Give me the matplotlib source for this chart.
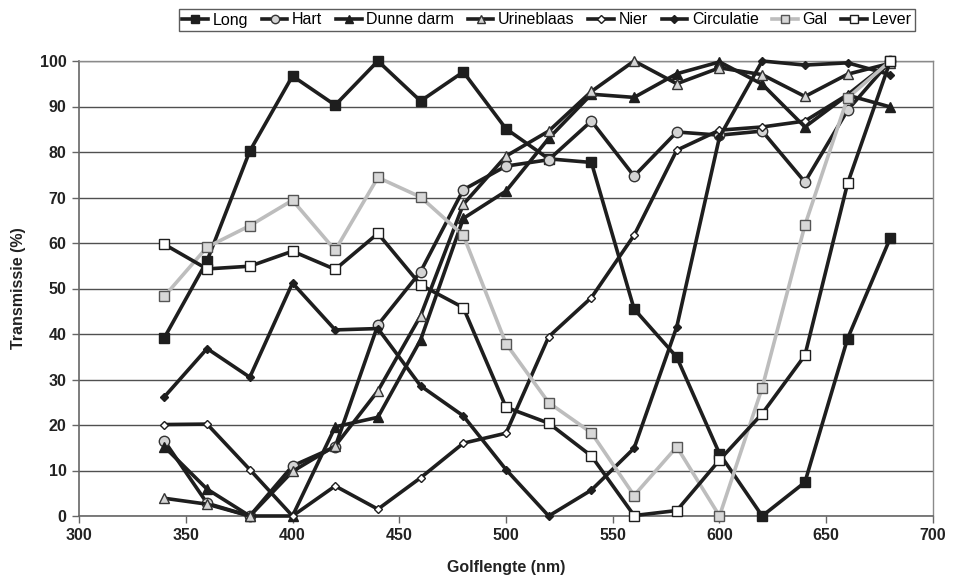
import matplotlib
matplotlib.use("Agg")
import matplotlib.pyplot as plt

plt.rcParams['font.family'] = ['Liberation Sans', 'DejaVu Sans']

wavelength = [340, 360, 380, 400, 420, 440, 460, 480, 500, 520, 540, 560, 580, 600, 620, 640, 660, 680]

long_ = [39.2, 56.1, 80.2, 96.7, 90.3, 100.0, 91.2, 97.6, 85.1, 78.5, 77.7, 45.5, 34.9, 13.7, 0.0, 7.4, 39.0, 61.1]
hart = [16.5, 2.8, 0.0, 11.0, 15.2, 42.0, 53.7, 71.7, 76.9, 78.3, 86.8, 74.7, 84.4, 83.7, 84.6, 73.4, 89.2, 100.0]
dunne_darm = [15.2, 5.9, 0.0, 0.0, 19.6, 21.7, 38.7, 65.4, 71.4, 83.0, 92.7, 92.0, 97.2, 99.8, 94.9, 85.5, 92.5, 89.9]
urineblaas = [3.9, 2.6, 0.0, 9.8, 15.4, 27.5, 44.0, 68.5, 79.1, 84.6, 93.3, 100.0, 95.0, 98.5, 97.0, 92.2, 97.1, 99.5]
nier = [20.1, 20.2, 10.2, 0.0, 6.6, 1.5, 8.4, 16.0, 18.2, 39.4, 48.0, 61.7, 80.4, 84.8, 85.5, 86.8, 92.6, 100.0]
circulatie = [26.2, 36.8, 30.5, 51.2, 40.9, 41.2, 28.6, 22.0, 10.2, 0.0, 5.7, 14.9, 41.6, 83.3, 100.0, 99.1, 99.6, 97.0]
gal = [48.3, 59.1, 63.8, 69.4, 58.4, 74.4, 70.1, 61.7, 37.9, 24.9, 18.3, 4.5, 15.2, 0.0, 28.2, 63.9, 91.9, 100.0]
lever = [59.7, 54.3, 54.9, 58.2, 54.2, 62.1, 50.8, 45.8, 23.9, 20.4, 13.2, 0.1, 1.2, 12.3, 22.5, 35.3, 73.1, 100.0]

series_names = ['Long', 'Hart', 'Dunne darm', 'Urineblaas', 'Nier', 'Circulatie', 'Gal', 'Lever']

fig = plt.figure(figsize=(9.54, 5.84), dpi=100)
ax = fig.add_axes([79/954, 1-516/584, (933-79)/954, (516-61)/584])

lw = 2.6
styles = [
    (long_, dict(color='#1e1e1e', marker='s', ms=7, mfc='#1e1e1e', mec='#1e1e1e')),
    (hart, dict(color='#1e1e1e', marker='o', ms=7.5, mfc='#d4d4d4', mec='#333333', mew=1.0)),
    (dunne_darm, dict(color='#1e1e1e', marker='^', ms=7.5, mfc='#1e1e1e', mec='#1e1e1e')),
    (urineblaas, dict(color='#1e1e1e', marker='^', ms=6.5, mfc='#d4d4d4', mec='#333333', mew=1.0)),
    (nier, dict(color='#1e1e1e', marker='D', ms=4.5, mfc='white', mec='#1e1e1e', mew=1.0)),
    (circulatie, dict(color='#1e1e1e', marker='D', ms=4.5, mfc='#1e1e1e', mec='#1e1e1e')),
    (gal, dict(color='#bdbdbd', marker='s', ms=7, mfc='#d8d8d8', mec='#555555', mew=1.0)),
    (lever, dict(color='#1e1e1e', marker='s', ms=7, mfc='white', mec='#1e1e1e', mew=1.0)),
]

handles = []
for (vals, st), name in zip(styles, series_names):
    h, = ax.plot(wavelength, vals, lw=lw, label=name, clip_on=False, zorder=3, **st)
    handles.append(h)

ax.set_xlim(300, 700)
ax.set_ylim(0, 100)
ax.set_xticks(range(300, 701, 50))
ax.set_yticks(range(0, 101, 10))
ax.yaxis.grid(True, color='#505050', lw=1.0)
ax.set_axisbelow(True)
for s in ['top', 'right']:
    ax.spines[s].set_color('#8a8a8a')
    ax.spines[s].set_linewidth(1.0)
for s in ['left', 'bottom']:
    ax.spines[s].set_color('#666666')
    ax.spines[s].set_linewidth(1.2)
ax.tick_params(axis='both', direction='out', length=5, width=1, color='#666666',
               labelsize=11.5, pad=4)
for lab in ax.get_xticklabels() + ax.get_yticklabels():
    lab.set_fontweight('bold')
    lab.set_color('#222222')

ax.set_xlabel('Golflengte (nm)', fontsize=11.5, fontweight='bold', color='#222222', labelpad=12)
ax.set_ylabel('Transmissie (%)', fontsize=11.5, fontweight='bold', color='#222222', labelpad=10)

leg = fig.legend(handles=handles, loc='upper center', bbox_to_anchor=(547/954, 1-1/584),
                 ncol=8, frameon=True, fontsize=11.5, handlelength=1.6, handletextpad=0.3,
                 columnspacing=0.85, borderpad=0.22, fancybox=False, edgecolor='#333333',
                 markerscale=0.8)
leg.get_frame().set_linewidth(1.0)

fig.savefig('out.png', dpi=100)
